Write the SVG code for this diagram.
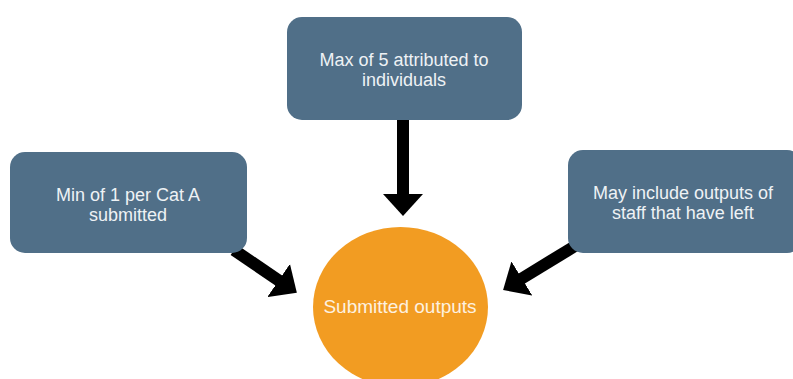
<svg xmlns="http://www.w3.org/2000/svg" width="793" height="379" viewBox="0 0 793 379">
<style>
.box{fill:#506f88;}
.t{font-family:"Liberation Sans",Arial,sans-serif;font-size:18px;fill:#eef2f5;text-anchor:middle;}
.ct{font-family:"Liberation Sans",Arial,sans-serif;font-size:19px;fill:#fdf1e0;text-anchor:middle;}
.conn{stroke:#000;stroke-width:12;fill:none;}
</style>
<defs>
<marker id="ah" markerUnits="userSpaceOnUse" viewBox="0 0 22 40" refX="1" refY="20" markerWidth="22" markerHeight="40" orient="auto">
<path d="M0,0 L22,20 L0,40 z" fill="#000"/>
</marker>
</defs>
<rect width="793" height="379" fill="#fff"/>
<g id="connectors">
<line class="conn" x1="403" y1="118" x2="403" y2="195" marker-end="url(#ah)"/>
<line class="conn" x1="234" y1="250" x2="279.5" y2="281" marker-end="url(#ah)"/>
<line class="conn" x1="575" y1="246" x2="521" y2="279" marker-end="url(#ah)"/>
</g>
<g id="node-top">
<rect class="box" x="287" y="17" width="235" height="103" rx="15"/>
<text class="t" x="404" y="66">Max of 5 attributed to</text>
<text class="t" x="404" y="86">individuals</text>
</g>
<g id="node-left">
<rect class="box" x="10" y="152" width="237" height="101" rx="15"/>
<text class="t" x="128" y="201">Min of 1 per Cat A</text>
<text class="t" x="128" y="221">submitted</text>
</g>
<g id="node-right">
<rect class="box" x="568" y="150" width="234" height="103" rx="15"/>
<text class="t" x="683" y="199">May include outputs of</text>
<text class="t" x="683" y="219">staff that have left</text>
</g>
<g id="node-center">
<ellipse cx="400.5" cy="307" rx="87.5" ry="80" fill="#f29c22"/>
<text class="ct" x="400" y="313">Submitted outputs</text>
</g>
</svg>
